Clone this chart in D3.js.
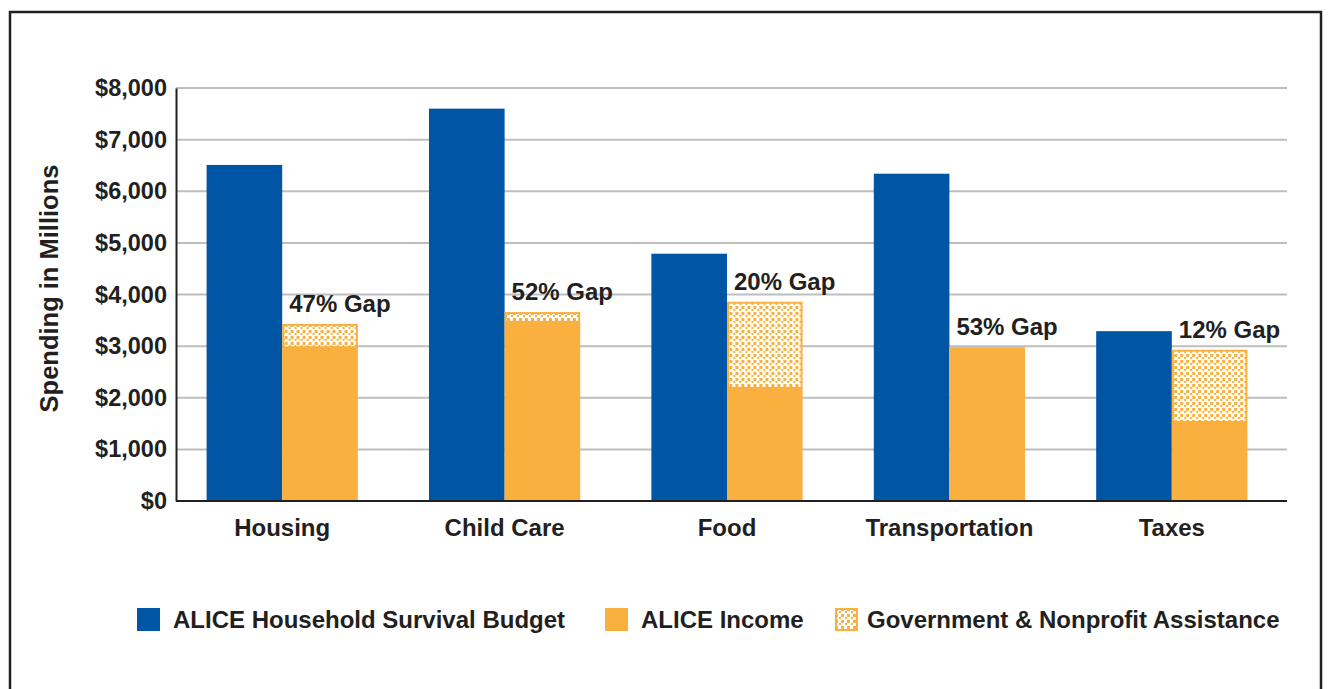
<!DOCTYPE html>
<html>
<head>
<meta charset="utf-8">
<script src="https://cdn.jsdelivr.net/npm/d3@7"></script>
<style>
  body { margin: 0; background: #fff; }
  svg { display: block; font-family: "Liberation Sans", Arial, sans-serif; font-weight: bold; }
</style>
</head>
<body>
<script>
const categories = ["Housing", "Child Care", "Food", "Transportation", "Taxes"];
const survivalBudget = [6510, 7600, 4790, 6340, 3290];
const aliceIncome = [2980, 3470, 2190, 2930, 1530];
const assistance = [450, 190, 1670, 50, 1400];
const gapLabels = ["47% Gap", "52% Gap", "20% Gap", "53% Gap", "12% Gap"];
const yTicks = [0, 1000, 2000, 3000, 4000, 5000, 6000, 7000, 8000];
const legendLabels = ["ALICE Household Survival Budget", "ALICE Income", "Government & Nonprofit Assistance"];

const width = 1328;
const height = 689;

const blue = '#0055a5';
const orange = '#f9b03f';
const ink = '#231f20';

const svg = d3.select('body')
  .append('svg')
  .attr('width', width)
  .attr('height', height);

// dotted fill for the assistance part
const defs = svg.append('defs');
const pat = defs.append('pattern')
  .attr('id', 'dots')
  .attr('patternUnits', 'userSpaceOnUse')
  .attr('width', 6)
  .attr('height', 6);
pat.append('rect').attr('width', 6).attr('height', 6).attr('fill', '#fff');
pat.append('rect').attr('x', 0).attr('y', 0).attr('width', 3).attr('height', 3).attr('fill', orange);
pat.append('rect').attr('x', 4).attr('y', 3).attr('width', 2).attr('height', 2).attr('fill', orange);

// outer frame
svg.append('rect')
  .attr('x', 10).attr('y', 12)
  .attr('width', 1311).attr('height', 700)
  .attr('fill', 'none')
  .attr('stroke', ink)
  .attr('stroke-width', 2.5);

const yScale = d3.scaleLinear()
  .domain([0, 8000])
  .range([501, 88]);

const xScale = d3.scaleBand()
  .domain(categories)
  .range([171, 1283])
  .paddingInner(0.32)
  .paddingOuter(0.16);

const inner = d3.scaleBand()
  .domain(['budget', 'income'])
  .range([0, xScale.bandwidth()]);

// gridlines
svg.append('g')
  .selectAll('line')
  .data(yTicks.slice(1))
  .join('line')
  .attr('x1', 176).attr('x2', 1287)
  .attr('y1', d => yScale(d)).attr('y2', d => yScale(d))
  .attr('stroke', '#bcbec0')
  .attr('stroke-width', 2);

const yAxis = d3.axisLeft(yScale)
  .tickValues(yTicks)
  .tickSize(0)
  .tickPadding(9)
  .tickFormat(d => '$' + d3.format(',')(d));

const gy = svg.append('g')
  .attr('transform', 'translate(176,0)')
  .call(yAxis);
gy.select('.domain').attr('stroke', ink).attr('stroke-width', 2);
gy.selectAll('text')
  .attr('fill', ink)
  .style('font-size', '23.5px')
  .style('font-family', '"Liberation Sans", Arial, sans-serif')
  .style('font-weight', 'bold');

svg.append('text')
  .text('Spending in Millions')
  .attr('transform', `translate(58,${(88 + 501) / 2 - 6}) rotate(-90)`)
  .attr('text-anchor', 'middle')
  .attr('fill', ink)
  .style('font-size', '25.5px');

// bars
const groups = svg.append('g')
  .selectAll('g')
  .data(categories)
  .join('g')
  .attr('transform', d => `translate(${xScale(d)},0)`);

groups.append('rect')
  .attr('x', inner('budget'))
  .attr('y', (d, i) => yScale(survivalBudget[i]))
  .attr('width', inner.bandwidth())
  .attr('height', (d, i) => yScale(0) - yScale(survivalBudget[i]))
  .attr('fill', blue);

groups.append('rect')
  .attr('x', inner('income'))
  .attr('y', (d, i) => yScale(aliceIncome[i]))
  .attr('width', inner.bandwidth())
  .attr('height', (d, i) => yScale(0) - yScale(aliceIncome[i]))
  .attr('fill', orange);

groups.append('rect')
  .attr('x', inner('income') + 1)
  .attr('y', (d, i) => yScale(aliceIncome[i] + assistance[i]) + 1)
  .attr('width', inner.bandwidth() - 2)
  .attr('height', (d, i) => Math.max(0, yScale(aliceIncome[i]) - yScale(aliceIncome[i] + assistance[i]) - 1))
  .attr('fill', 'url(#dots)')
  .attr('stroke', orange)
  .attr('stroke-width', 2);

groups.append('text')
  .text((d, i) => gapLabels[i])
  .attr('x', inner('income') + 7)
  .attr('y', (d, i) => yScale(aliceIncome[i] + assistance[i]) - 12)
  .attr('fill', ink)
  .style('font-size', '24px');

// x axis
const xAxis = d3.axisBottom(xScale).tickSize(0).tickPadding(18);
const gx = svg.append('g')
  .attr('transform', 'translate(0,501)')
  .call(xAxis);
gx.select('.domain').remove();
gx.append('line')
  .attr('x1', 176).attr('x2', 1287)
  .attr('stroke', ink).attr('stroke-width', 2);
gx.selectAll('text')
  .attr('fill', ink)
  .style('font-size', '24px')
  .style('font-family', '"Liberation Sans", Arial, sans-serif')
  .style('font-weight', 'bold');

// legend
const legendX = [137, 605, 835];
const legendFill = [blue, orange, 'url(#dots)'];
const legend = svg.append('g')
  .selectAll('g')
  .data(legendLabels)
  .join('g')
  .attr('transform', (d, i) => `translate(${legendX[i]},608)`);
legend.append('rect')
  .attr('x', (d, i) => i === 2 ? 1 : 0)
  .attr('y', (d, i) => i === 2 ? 1 : 0)
  .attr('width', (d, i) => i === 2 ? 21 : 23)
  .attr('height', (d, i) => i === 2 ? 21 : 23)
  .attr('fill', (d, i) => legendFill[i])
  .attr('stroke', (d, i) => i === 2 ? orange : 'none')
  .attr('stroke-width', 2);
legend.append('text')
  .text(d => d)
  .attr('x', (d, i) => i === 2 ? 32 : 36)
  .attr('y', 20)
  .attr('fill', ink)
  .style('font-size', '24px');
</script>
</body>
</html>
